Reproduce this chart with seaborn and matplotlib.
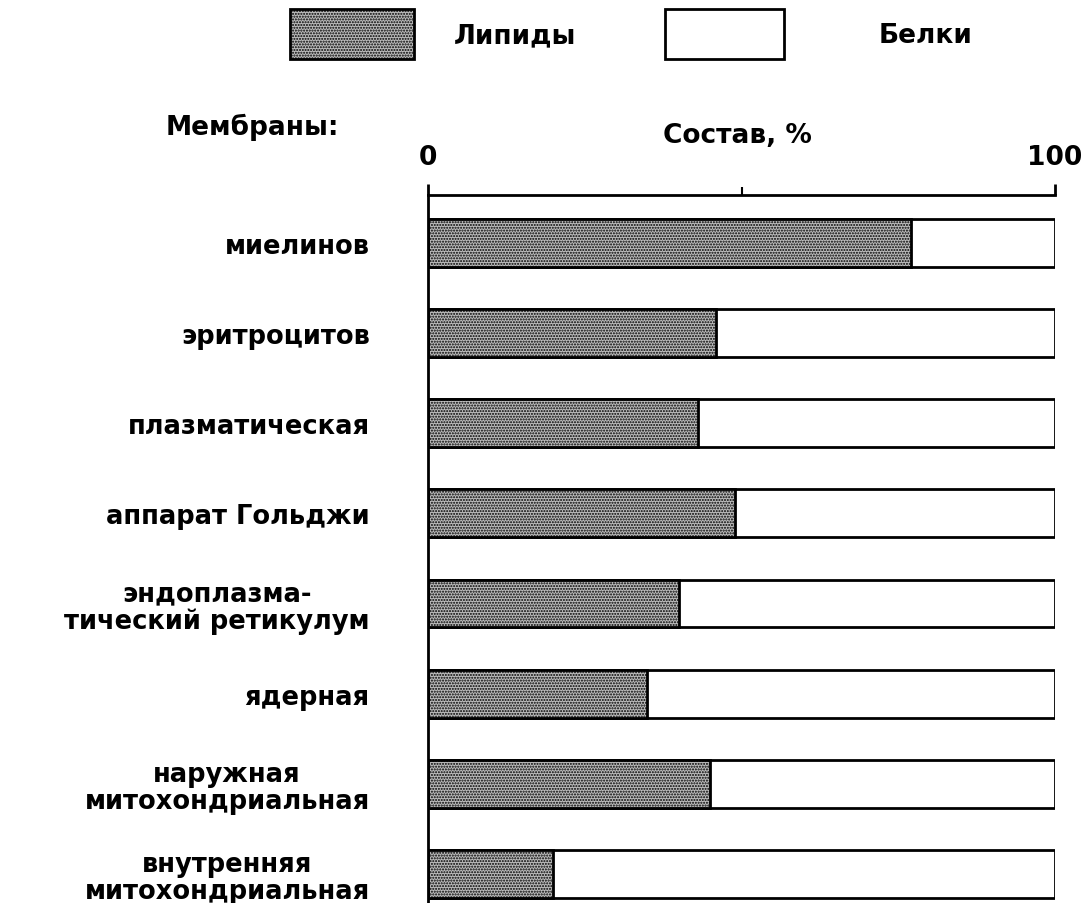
import pandas as pd
import numpy as np
import matplotlib.pyplot as plt
import seaborn as sns
from matplotlib.patches import Patch

membranes = [
    "миелинов",
    "эритроцитов",
    "плазматическая",
    "аппарат Гольджи",
    "эндоплазма-\nтический ретикулум",
    "ядерная",
    "наружная\nмитохондриальная",
    "внутренняя\nмитохондриальная",
]
lipids = [77, 46, 43, 49, 40, 35, 45, 20]
total = [100, 100, 100, 100, 100, 100, 100, 100]

df = pd.DataFrame({"Мембрана": membranes, "Липиды": lipids, "Всего": total})

sns.set_theme(style="white")
plt.rcParams["font.family"] = ["DejaVu Sans"]
plt.rcParams["font.weight"] = "bold"
plt.rcParams["text.color"] = "black"
plt.rcParams["xtick.color"] = "black"
plt.rcParams["ytick.color"] = "black"

gray = "#bcbcbc"

fig = plt.figure(figsize=(10.87, 9.04), dpi=100)
ax = fig.add_axes([428 / 1087, 0.0, (1055 - 428) / 1087, 1 - 196 / 904])

# белки = белый фон до 100, липиды поверх
sns.barplot(data=df, x="Всего", y="Мембрана", orient="h", color="white",
            edgecolor="black", linewidth=2, width=0.53, ax=ax)
sns.barplot(data=df, x="Липиды", y="Мембрана", orient="h", color=gray,
            edgecolor="black", linewidth=2, width=0.53, ax=ax)
for p in ax.patches[len(df):]:
    p.set_hatch("......")
    p.set_facecolor(gray)

ax.set_xlim(0, 100)
ax.set_ylim(7.32, -0.53)

ax.xaxis.tick_top()
ax.set_xticks([0, 50, 100])
ax.set_xticklabels(["0", "", "100"], fontsize=19)
ax.tick_params(axis="x", direction="out", length=8, width=2, pad=10)
ax.xaxis.get_major_ticks()[1].tick2line.set_markersize(6)
ax.xaxis.get_major_ticks()[1].tick2line.set_markeredgewidth(1.5)
ax.tick_params(axis="y", length=0, pad=42, labelsize=18.5)
for lab in ax.get_yticklabels():
    lab.set_multialignment("center")
    lab.set_linespacing(1.05)

ax.set_xlabel("")
ax.set_ylabel("")
for side in ["right", "bottom"]:
    ax.spines[side].set_visible(False)
for side in ["top", "left"]:
    ax.spines[side].set_color("black")
    ax.spines[side].set_linewidth(2)

fig.text(737 / 1087, 1 - 136 / 904, "Состав, %", ha="center", va="center", fontsize=19)
fig.text(252 / 1087, 1 - 127 / 904, "Мембраны:", ha="center", va="center", fontsize=19)

h1 = [Patch(facecolor=gray, edgecolor="black", hatch="......", linewidth=2, label="Липиды")]
h2 = [Patch(facecolor="white", edgecolor="black", linewidth=2, label="Белки")]
fig.legend(handles=h1, loc="center left", bbox_to_anchor=(290 / 1087, 1 - 35 / 904),
           frameon=False, fontsize=19, handlelength=4.7, handleheight=2.5,
           handletextpad=1.5, borderpad=0, borderaxespad=0)
fig.legend(handles=h2, loc="center left", bbox_to_anchor=(665 / 1087, 1 - 35 / 904),
           frameon=False, fontsize=19, handlelength=4.5, handleheight=2.5,
           handletextpad=3.6, borderpad=0, borderaxespad=0)

plt.savefig("out.png", dpi=100)
